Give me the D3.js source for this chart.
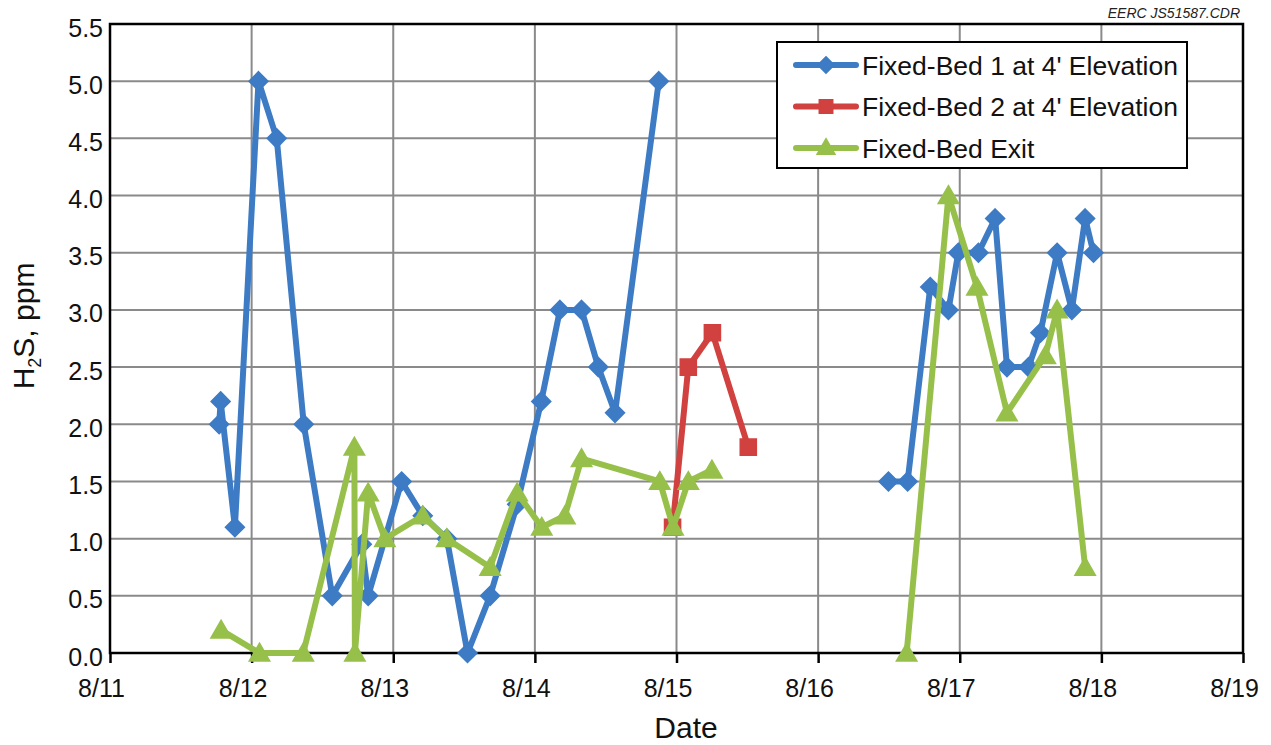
<!DOCTYPE html>
<html>
<head>
<meta charset="utf-8">
<script src="https://cdn.jsdelivr.net/npm/d3@7"></script>
<style>
  html, body { margin: 0; padding: 0; background: #fff; }
  svg { display: block; font-family: "Liberation Sans", Arial, sans-serif; }
</style>
</head>
<body>
<svg id="chart" width="1271" height="745"></svg>
<script>
// H2S readings at the fixed beds; null marks a break in sampling.
const bed1Times = ["08/11 18:30","08/11 18:45","08/11 21:10","08/12 01:10","08/12 04:15","08/12 08:50","08/12 13:40","08/12 18:40","08/12 19:45","08/13 01:25","08/13 05:00","08/13 09:05","08/13 12:35","08/13 16:25","08/13 21:00","08/14 01:05","08/14 04:15","08/14 07:55","08/14 10:45","08/14 13:35","08/14 21:00","08/15 12:00","08/16 11:55","08/16 15:10","08/16 19:00","08/16 22:05","08/16 23:45","08/17 03:10","08/17 06:00","08/17 08:00","08/17 11:40","08/17 13:40","08/17 16:30","08/17 19:00","08/17 21:15","08/17 22:40"];
const bed1Values = [2.0,2.2,1.1,5.0,4.5,2.0,0.5,0.95,0.5,1.5,1.2,1.0,0.0,0.5,1.3,2.2,3.0,3.0,2.5,2.1,5.0,null,1.5,1.5,3.2,3.0,3.5,3.5,3.8,2.5,2.5,2.8,3.5,3.0,3.8,3.5];

const bed2Times = ["08/14 23:20","08/15 02:00","08/15 06:05","08/15 12:10"];
const bed2Values = [1.1,2.5,2.8,1.8];

const exitTimes = ["08/11 18:50","08/12 01:20","08/12 08:45","08/12 17:25","08/12 17:30","08/12 19:45","08/12 22:35","08/13 05:00","08/13 09:05","08/13 16:25","08/13 21:00","08/14 01:10","08/14 05:05","08/14 07:55","08/14 21:10","08/14 23:25","08/15 02:00","08/15 06:00","08/16 00:00","08/16 15:00","08/16 22:05","08/17 02:55","08/17 08:00","08/17 14:30","08/17 16:30","08/17 21:15"];
const exitValues = [0.2,0.0,0.0,1.8,0.0,1.4,1.0,1.2,1.0,0.75,1.4,1.1,1.2,1.7,1.5,1.1,1.5,1.6,null,0.0,4.0,3.2,2.1,2.6,3.0,0.75];

const seriesNames = ["Fixed-Bed 1 at 4' Elevation","Fixed-Bed 2 at 4' Elevation","Fixed-Bed Exit"];
const xTickLabels = ["08/11","08/12","08/13","08/14","08/15","08/16","08/17","08/18","08/19"];
const yTickValues = [0,0.5,1,1.5,2,2.5,3,3.5,4,4.5,5,5.5];

const parse = d3.timeParse("%m/%d %H:%M");
const parseDay = d3.timeParse("%m/%d");

const svg = d3.select("#chart");
const m = { left: 110, right: 1243, top: 24, bottom: 653 };

const x = d3.scaleTime()
  .domain([parseDay(xTickLabels[0]), parseDay(xTickLabels[xTickLabels.length - 1])])
  .range([m.left, m.right]);
const y = d3.scaleLinear().domain([0, 5.5]).range([m.bottom, m.top]);

const xTicks = xTickLabels.map(parseDay);
const fmt = d3.timeFormat("%-m/%-d");
const font = "'Liberation Sans', Arial, sans-serif";

// gridlines
const grid = svg.append("g");
grid.selectAll("line.h").data(yTickValues.slice(1, -1)).join("line")
  .attr("x1", m.left).attr("x2", m.right)
  .attr("y1", d => y(d)).attr("y2", d => y(d))
  .attr("stroke", "#8a8a8a").attr("stroke-width", 2);
grid.selectAll("line.v").data(xTicks.slice(1, -1)).join("line")
  .attr("y1", m.top).attr("y2", m.bottom)
  .attr("x1", d => x(d)).attr("x2", d => x(d))
  .attr("stroke", "#8a8a8a").attr("stroke-width", 2);

// axes
const xAxis = svg.append("g")
  .attr("transform", `translate(0,${m.bottom})`)
  .call(d3.axisBottom(x).tickValues(xTicks).tickFormat(fmt).tickSize(10).tickPadding(16));
xAxis.select(".domain").remove();
xAxis.selectAll(".tick line").attr("stroke", "#000").attr("stroke-width", 2.5);
xAxis.selectAll(".tick text").attr("font-size", 25).attr("fill", "#111")
  .attr("font-family", font).attr("dx", -9);

const yAxis = svg.append("g")
  .attr("transform", `translate(${m.left},0)`)
  .call(d3.axisLeft(y).tickValues(yTickValues).tickFormat(d3.format(".1f")).tickSize(0).tickPadding(7));
yAxis.select(".domain").remove();
yAxis.selectAll(".tick text").attr("font-size", 25).attr("fill", "#111")
  .attr("font-family", font).attr("dy", "0.48em");

// frame
svg.append("rect")
  .attr("x", m.left).attr("y", m.top)
  .attr("width", m.right - m.left).attr("height", m.bottom - m.top)
  .attr("fill", "none").attr("stroke", "#000").attr("stroke-width", 2.5);

const colors = ["#3d7bc5", "#d0413f", "#97c04b"];
const symbols = [d3.symbolDiamond2, d3.symbolSquare2, d3.symbolTriangle2];
const sizes = [230, 330, 300];

const series = [
  { times: bed1Times, values: bed1Values },
  { times: bed2Times, values: bed2Values },
  { times: exitTimes, values: exitValues }
].map((s, i) => ({
  i,
  pts: s.times.map((t, k) => ({ t: parse(t), v: s.values[k] }))
}));

const line = d3.line()
  .defined(d => d.v != null)
  .x(d => x(d.t)).y(d => y(d.v));

function marker(sel, i, sz) {
  sel.attr("d", d3.symbol().type(symbols[i]).size(sz)())
    .attr("fill", colors[i]).attr("stroke", colors[i]).attr("stroke-width", 1.5);
}

series.forEach(s => {
  const g = svg.append("g");
  g.append("path").datum(s.pts)
    .attr("d", line)
    .attr("fill", "none").attr("stroke", colors[s.i])
    .attr("stroke-width", 6).attr("stroke-linejoin", "round").attr("stroke-linecap", "round");
  g.selectAll("path.m").data(s.pts.filter(d => d.v != null)).join("path")
    .attr("class", "m")
    .attr("transform", d => `translate(${x(d.t)},${y(d.v) + (s.i === 2 ? 2 : 0)})`)
    .call(marker, s.i, sizes[s.i]);
});

// legend
const lg = svg.append("g");
lg.append("rect").attr("x", 777).attr("y", 42).attr("width", 410).attr("height", 126)
  .attr("fill", "#fff").attr("stroke", "#000").attr("stroke-width", 2);
seriesNames.forEach((name, i) => {
  const cy = 65 + i * 41.5;
  lg.append("line").attr("x1", 796).attr("x2", 856).attr("y1", cy).attr("y2", cy)
    .attr("stroke", colors[i]).attr("stroke-width", 6).attr("stroke-linecap", "round");
  lg.append("path").attr("transform", `translate(826,${cy + (i === 2 ? 1 : 0)})`)
    .call(marker, i, i === 0 ? 170 : 230);
  lg.append("text").attr("x", 862).attr("y", cy + 9.5)
    .attr("font-size", 26.5).attr("fill", "#111").text(name);
});

// axis titles
svg.append("text").attr("x", 686).attr("y", 738).attr("text-anchor", "middle")
  .attr("font-size", 30).attr("fill", "#111").text("Date");

const yt = svg.append("text")
  .attr("transform", "translate(34,326) rotate(-90)")
  .attr("text-anchor", "middle").attr("font-size", 30).attr("fill", "#111");
yt.append("tspan").text("H");
yt.append("tspan").attr("font-size", 18).attr("dy", 7).text("2");
yt.append("tspan").attr("dy", -7).text("S, ppm");

// drawing reference
svg.append("text").attr("x", 1240).attr("y", 18).attr("text-anchor", "end")
  .attr("font-size", 14).attr("font-style", "italic").attr("fill", "#222")
  .text("EERC JS51587.CDR");
</script>
</body>
</html>
